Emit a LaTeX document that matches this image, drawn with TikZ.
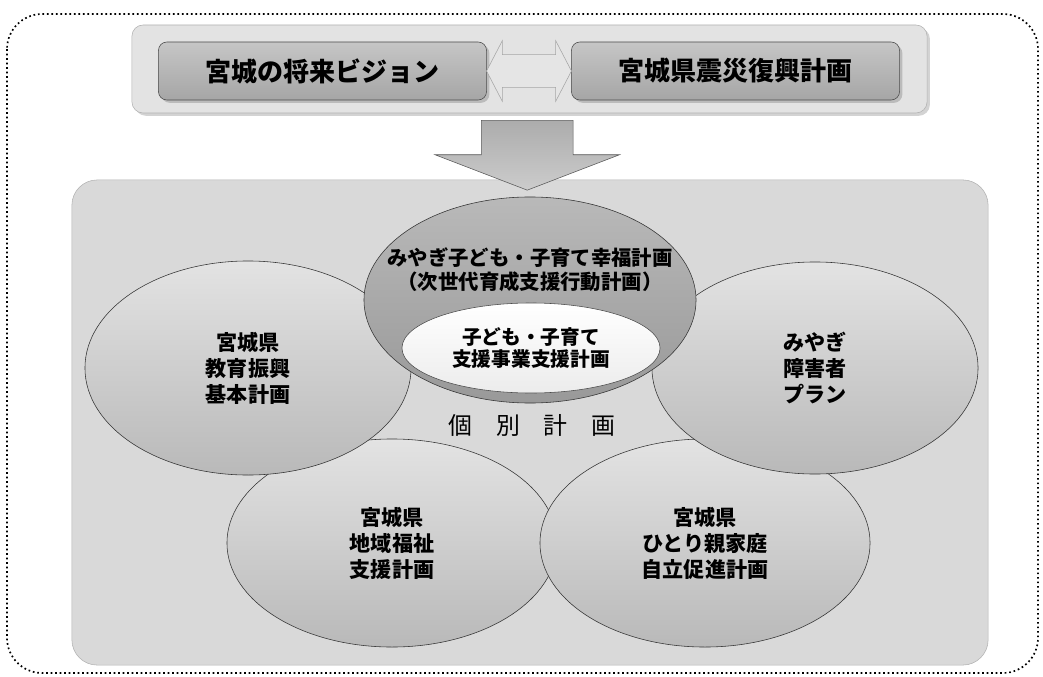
\documentclass[tikz,border=0pt]{standalone}
\usepackage{fontspec}
\newfontfamily\jp{Noto Sans CJK JP}
\usetikzlibrary{calc}
\usetikzlibrary{shapes.geometric,shapes.arrows}
\usetikzlibrary{shadows}
\tikzset{%
    frame/.style={draw,dotted,line width=1.2pt,rounded corners=25pt},
    band/.style={inner sep=0pt,outer sep=0pt,shape=rectangle,rounded corners=8pt,draw=gray!60,fill=gray!22,drop shadow={opacity=0.35,shadow xshift=2pt,shadow yshift=-2pt}},
    title box/.style={inner sep=0pt,outer sep=0pt,shape=rectangle,rounded corners=6pt,draw=black!70,top color=gray!45,bottom color=gray!70,drop shadow={opacity=0.4,shadow xshift=2pt,shadow yshift=-2pt},font=\jp\bfseries\fontsize{18.5}{22}\selectfont,minimum width=8.2cm,minimum height=1.45cm},
    link/.style={double arrow,draw=gray!70,fill=gray!20,inner xsep=0pt,inner ysep=0.4cm,double arrow head extend=0.35cm,double arrow tip angle=125},
    down/.style={single arrow,draw=gray!70!black,top color=gray!65,bottom color=gray!40,inner xsep=0pt,inner ysep=1.14cm,single arrow head extend=1.16cm,single arrow tip angle=138},
    panel/.style={inner sep=0pt,outer sep=0pt,shape=rectangle,rounded corners=18pt,draw=gray!60,fill=gray!30},
    plan/.style={ellipse,draw=black!80,thin,inner sep=0pt,top color=gray!22,bottom color=gray!55,align=center,font=\jp\bfseries\fontsize{15}{18.5}\selectfont},
    main plan/.style={ellipse,draw=black!80,thin,inner sep=0pt,top color=gray!55,bottom color=gray!80},
    sub plan/.style={ellipse,draw=black!70,thin,inner sep=0pt,top color=white,bottom color=gray!15,align=center,font=\jp\bfseries\fontsize{14}{16}\selectfont},
}

\begin{document}
\begin{tikzpicture}[x=0.025cm,y=-0.025cm,>=latex]
        \useasboundingbox (0,0) rectangle (1043,676);
        \draw[frame] (7,14) rectangle (1038,673);

        \node[band,minimum width=19.875cm,minimum height=2.2cm] (band) at (529.5,69) {};
        \node[title box] (vision) at (322.5,71) {宮城の将来ビジョン};
        \node[title box] (fukko) at (735.5,71) {宮城県震災復興計画};
        \path let \p1=(vision.east), \p2=(fukko.west) in
            node[link,minimum height=\x2-\x1] (both) at ($(vision.east)!0.5!(fukko.west)$) {};

        \node[panel,minimum width=22.9cm,minimum height=12.125cm] (panel) at (530,422.5) {};
        \path let \p1=(band.south), \p2=(panel.north) in
            node[down,rotate=-90,minimum height=\y1-\y2+2pt] (toplans) at ($(band.south)!0.5!(panel.north)+(-2.5,0)$) {};

        \node[plan,minimum width=8.25cm,minimum height=5.2cm] (fukushi) at (392,543) {宮城県\\地域福祉\\支援計画};
        \node[plan,minimum width=8.25cm,minimum height=5.2cm] (hitorioya) at (705,543) {宮城県\\ひとり親家庭\\自立促進計画};
        \node[plan,minimum width=8.15cm,minimum height=5.35cm] (kyoiku) at (248,368) {宮城県\\教育振興\\基本計画};
        \node[plan,minimum width=8.15cm,minimum height=5.3cm] (shogai) at (815,368) {みやぎ\\障害者\\プラン};
        \node[main plan,minimum width=8.3cm,minimum height=5.15cm] (kosodate) at (530,300) {};
        \node[sub plan,minimum width=6.45cm,minimum height=2.25cm] (jigyo) at (531,348) {子ども・子育て\\支援事業支援計画};
        \node[align=center,font=\jp\bfseries\fontsize{14.5}{17}\selectfont] (kosodate text) at (530,270) {みやぎ子ども・子育て幸福計画\\（次世代育成支援行動計画）};

        \node[font=\jp\fontsize{17}{20}\selectfont] (kobetsu) at (532,425) {個　別　計　画};
      \end{tikzpicture}
\end{document}
